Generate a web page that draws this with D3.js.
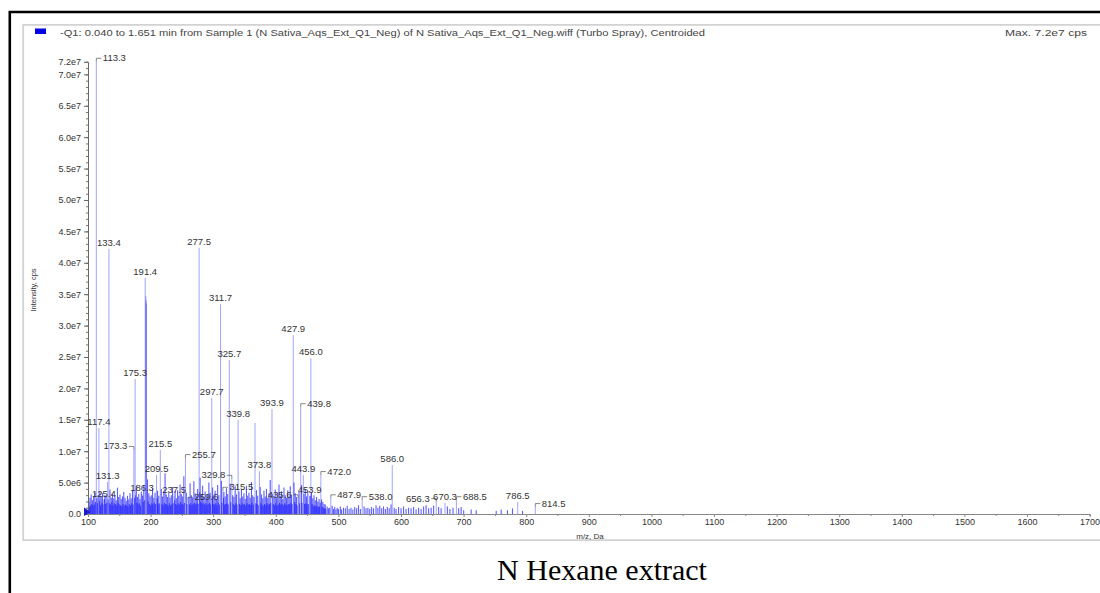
<!DOCTYPE html>
<html lang="en">
<head>
<meta charset="UTF-8">
<title>N Hexane extract</title>
<script src="https://d3js.org/d3.v7.min.js"></script>
<style>
  body { margin: 0; background: #fff; }
  svg { display: block; font-family: Arial, "Liberation Sans", sans-serif; }
  .tick text { fill: #333; font-size: 9px; }
  .peak-label { fill: #333; font-size: 9.5px; }
</style>
</head>
<body>
<script>
// labelled peaks: m/z and intensity (x1e6 cps)
const peakMz  = [113.3, 117.4, 125.4, 131.3, 133.4, 173.3, 175.3, 186.3, 191.4, 209.5, 215.5, 237.5, 255.7, 259.6, 277.5, 297.7, 311.7, 315.5, 325.7, 329.8, 339.8, 373.8, 393.9, 427.9, 435.6, 439.8, 443.9, 453.9, 456.0, 472.0, 487.9, 538.0, 586.0, 656.3, 670.3, 688.5, 786.5, 814.5];
const peakInt = [72.0, 13.7, 2.2, 5.1, 42.2, 10.2, 21.5, 3.2, 37.6, 6.2, 10.2, 2.9, 8.9, 2.1, 42.4, 18.5, 33.4, 3.7, 24.5, 5.6, 15.0, 6.8, 16.7, 28.5, 2.5, 17.0, 6.2, 2.9, 24.8, 6.2, 2.5, 2.2, 7.8, 1.9, 1.75, 2.2, 1.9, 1.1];

// labels drawn beside the peak with a small leader: +1 right, -1 left
const leaderSide = {"113.3": 1, "173.3": -1, "255.7": 1, "259.6": 1, "315.5": 1, "329.8": -1, "435.6": -1, "439.8": 1, "472.0": 1, "487.9": 1, "538.0": 1, "656.3": -1, "688.5": 1, "814.5": 1};

// unlabelled tall peaks
const extraMz  = [192.4, 193.0, 193.4, 366.8];
const extraInt = [34.7, 34.0, 33.5, 14.5];

// background ions [m/z, intensity x1e6]
const noisePeaks = [
  [100.5,1.2],[101.4,2.0],[102.3,1.1],[103.2,2.6],[104.1,1.4],[105.1,3.1],[106.0,1.6],[107.1,2.2],[108.0,1.3],[109.0,2.8],
  [110.1,1.5],[111.0,3.4],[112.0,1.9],[114.1,2.5],[115.0,1.7],[116.1,3.0],[118.3,2.1],[119.1,3.6],[120.0,1.4],[121.1,2.7],
  [122.0,1.8],[123.1,3.3],[124.0,1.5],[126.1,2.4],[127.0,3.0],[128.1,1.6],[129.0,2.9],[130.1,1.8],[132.1,2.3],[134.2,1.7],
  [135.1,3.9],[136.0,1.5],[137.1,2.6],[138.0,1.9],[139.1,3.2],[140.0,1.4],[141.1,2.5],[142.0,1.7],[143.1,3.0],[144.0,1.6],
  [145.1,2.2],[146.0,1.3],[147.1,4.2],[148.0,1.8],[149.0,2.7],[150.1,1.5],[151.1,3.1],[152.0,1.4],[153.1,2.4],[154.0,1.2],
  [155.1,2.8],[156.0,1.6],[157.1,3.5],[158.0,1.3],[159.1,2.6],[160.0,1.5],[161.1,2.1],[162.0,1.4],[163.1,2.9],[164.0,1.2],
  [165.1,2.3],[166.0,1.6],[167.1,3.3],[168.0,1.4],[169.1,2.5],[170.0,1.7],[171.1,3.8],[172.0,1.5],[174.2,2.6],[176.1,3.0],
  [177.1,4.4],[178.0,1.8],[179.1,2.7],[180.0,1.5],[181.1,3.2],[182.0,1.7],[183.1,2.4],[184.0,1.3],[185.1,3.6],[187.2,2.9],
  [188.1,1.9],[189.1,4.6],[190.1,2.2],[195.1,5.5],[196.0,2.0],[197.1,3.3],[198.0,1.6],[199.1,2.8],[200.0,1.4],[201.1,3.0],
  [202.0,1.7],[203.1,4.1],[204.0,1.5],[205.1,2.6],[206.0,1.8],[207.1,3.4],[208.0,1.6],[210.4,2.5],[211.1,3.7],[212.0,1.5],
  [213.1,2.9],[214.0,1.7],[217.1,4.0],[218.0,1.6],[219.1,2.8],[220.0,1.4],[221.1,3.5],[222.0,1.8],[223.1,6.5],[224.0,1.6],
  [225.1,3.1],[226.0,1.5],[227.1,2.7],[228.0,1.3],[229.1,3.4],[230.0,1.7],[231.1,2.6],[232.0,1.4],[233.1,3.0],[234.0,1.5],
  [235.1,4.3],[236.0,1.7],[238.4,2.2],[239.1,3.6],[240.0,1.6],[241.1,2.5],[242.0,1.4],[243.1,3.8],[244.0,1.7],[245.1,2.9],
  [246.0,1.5],[247.1,4.7],[248.0,1.9],[249.1,3.2],[250.0,1.6],[251.1,2.8],[252.0,1.5],[253.1,6.0],[254.0,1.8],[257.1,3.4],
  [258.0,1.6],[261.1,2.7],[262.0,1.5],[263.1,4.9],[264.0,1.7],[265.1,3.0],[266.0,1.4],[267.1,2.6],[268.0,1.6],[269.1,5.2],
  [270.0,1.8],[271.1,3.3],[272.0,1.5],[273.1,2.9],[274.0,1.7],[275.1,4.0],[276.0,1.6],[278.4,3.5],[279.1,5.8],[280.0,1.9],
  [281.1,3.1],[282.0,1.6],[283.1,4.5],[284.0,1.8],[285.1,2.7],[286.0,1.5],[287.1,3.6],[288.0,1.7],[289.1,2.5],[290.0,1.4],
  [291.1,3.2],[292.0,1.6],[293.1,5.0],[294.0,1.8],[295.1,3.4],[296.0,1.5],[298.5,2.8],[299.1,4.2],[300.0,1.6],[301.1,2.9],
  [302.0,1.5],[303.1,3.7],[304.0,1.7],[305.1,2.4],[306.0,1.4],[307.1,4.6],[308.0,1.8],[309.1,3.0],[310.0,1.5],[313.1,5.3],
  [314.0,1.8],[316.4,2.6],[317.1,3.5],[318.0,1.5],[319.1,2.8],[320.0,1.6],[321.1,4.1],[322.0,1.7],[323.1,3.2],[324.0,1.5],
  [327.1,4.8],[328.0,1.9],[331.1,3.0],[332.0,1.6],[333.1,2.7],[334.0,1.4],[335.1,4.4],[336.0,1.7],[337.1,3.1],[338.0,1.5],
  [341.1,3.6],[342.0,1.6],[343.1,2.5],[344.0,1.4],[345.1,3.9],[346.0,1.7],[347.1,2.8],[348.0,1.5],[349.1,3.3],[350.0,1.6],
  [351.1,2.4],[352.0,1.3],[353.1,4.5],[354.0,1.7],[355.1,2.9],[356.0,1.5],[357.1,3.4],[358.0,1.6],[359.1,2.6],[360.0,1.4],
  [361.1,5.1],[362.0,1.8],[363.1,3.0],[364.0,1.5],[365.1,2.7],[368.0,1.7],[369.1,3.8],[370.0,1.6],[371.1,2.9],[372.0,1.4],
  [375.1,4.3],[376.0,1.7],[377.1,3.1],[378.0,1.5],[379.1,2.5],[380.0,1.3],[381.1,3.7],[382.0,1.6],[383.1,2.8],[384.0,1.4],
  [385.1,4.0],[386.0,1.7],[387.1,2.6],[388.0,1.5],[389.1,3.3],[390.0,1.6],[391.1,5.4],[392.0,1.8],[395.1,3.2],[396.0,1.6],
  [397.1,2.7],[398.0,1.4],[399.1,3.9],[400.0,1.7],[401.1,2.5],[402.0,1.3],[403.1,3.4],[404.0,1.5],[405.1,4.7],[406.0,1.8],
  [407.1,2.9],[408.0,1.5],[409.1,3.6],[410.0,1.6],[411.1,2.4],[412.0,1.4],[413.1,4.2],[414.0,1.7],[415.1,3.0],[416.0,1.5],
  [417.1,2.6],[418.0,1.4],[419.1,3.8],[420.0,1.6],[421.1,2.8],[422.0,1.5],[423.1,4.4],[424.0,1.8],[425.1,3.1],[426.0,1.6],
  [429.1,5.0],[430.0,1.9],[431.1,3.3],[432.0,1.6],[433.1,2.7],[434.0,1.4],[437.1,3.5],[438.0,1.7],[441.1,4.6],[442.0,1.8],
  [445.1,3.2],[446.0,1.6],[447.1,4.0],[448.0,1.7],[449.1,2.8],[450.0,1.5],[451.1,3.6],[452.0,1.6],[455.1,2.9],[457.1,3.4],
  [458.0,1.6],[459.1,2.5],[460.0,1.3],[461.1,3.0],[462.0,1.4],[463.1,2.2],[464.0,1.2],[465.1,2.7],[466.0,1.3],[467.1,2.0],
  [468.0,1.1],[469.1,2.4],[470.0,1.2],[471.0,1.8],[473.1,2.3],[474.0,1.1],[475.1,1.9],[476.0,1.0],[477.1,1.6],[478.0,0.9],
  [479.1,1.5],[480.0,0.8],[482.1,1.2],[484.1,0.9],[486.1,1.0],[490.1,1.3],[492.1,0.8],[494.1,1.1],[496.1,0.7],[498.1,1.0],
  [500.1,0.8],[503.1,1.2],[505.1,0.7],[508.1,1.0],[511.1,0.9],[514.1,1.3],[517.1,0.8],[520.1,1.0],[523.1,0.7],[526.1,1.1],
  [529.1,0.9],[532.1,1.4],[535.1,0.8],[541.1,1.2],[544.1,0.9],[547.1,1.0],[550.1,0.8],[553.1,1.1],[556.1,0.9],[560.1,1.4],
  [563.1,1.0],[566.1,1.3],[569.1,0.9],[572.1,1.2],[575.1,0.8],[578.1,1.1],[581.1,0.9],[584.1,1.5],[589.1,1.0],[592.1,0.8],
  [596.1,1.1],[600.1,0.9],[604.1,1.2],[608.1,0.8],[612.1,1.0],[616.1,0.9],[620.1,1.1],[624.1,0.7],[628.1,1.0],[632.1,0.8],
  [636.1,1.2],[640.1,1.4],[644.1,0.9],[648.1,1.0],[652.1,1.3],[660.1,1.1],[664.1,0.9],[674.1,1.2],[678.1,0.8],[683.1,1.0],
  [692.1,0.9],[696.1,1.1],[700.1,0.6],[712.1,0.7],[720.1,0.6],[752.1,0.5],[760.1,0.7],[770.1,0.6],[778.1,0.9],[794.1,0.5]
];

const yTickValues = [0, 5e6, 10e6, 15e6, 20e6, 25e6, 30e6, 35e6, 40e6, 45e6, 50e6, 55e6, 60e6, 65e6, 70e6, 72e6];
const xTickValues = [100, 200, 300, 400, 500, 600, 700, 800, 900, 1000, 1100, 1200, 1300, 1400, 1500, 1600, 1700];

const headerText = "-Q1: 0.040 to 1.651 min from Sample 1 (N Sativa_Aqs_Ext_Q1_Neg) of N Sativa_Aqs_Ext_Q1_Neg.wiff (Turbo Spray), Centroided";

const W = 1100, H = 593;
const svg = d3.select("body").append("svg")
    .attr("width", W)
    .attr("height", H);

svg.append("rect").attr("width", W).attr("height", H).attr("fill", "#fff");

// outer black frame (left + top)
svg.append("path")
    .attr("d", `M9.8,${H} V12 H${W + 5}`)
    .attr("fill", "none")
    .attr("stroke", "#000")
    .attr("stroke-width", 2.6);

// inner grey panel frame
svg.append("path")
    .attr("d", `M${W + 5},24.8 H23.2 V540.2 H${W + 5}`)
    .attr("fill", "none")
    .attr("stroke", "#d2d2d2")
    .attr("stroke-width", 1.8);

// header
svg.append("rect")
    .attr("x", 35).attr("y", 28.5).attr("width", 11).attr("height", 5.5)
    .attr("fill", "#0000e6");
svg.append("text")
    .attr("x", 60).attr("y", 36)
    .attr("font-size", 8.5)
    .attr("fill", "#444")
    .attr("textLength", 645)
    .attr("lengthAdjust", "spacingAndGlyphs")
    .text(headerText);
svg.append("text")
    .attr("x", 1005).attr("y", 36)
    .attr("font-size", 8.5)
    .attr("fill", "#444")
    .attr("textLength", 82)
    .attr("lengthAdjust", "spacingAndGlyphs")
    .text("Max. 7.2e7 cps");

// scales
const x = d3.scaleLinear().domain([100, 1700]).range([88, 1089.6]);
const y = d3.scaleLinear().domain([0, 72e6]).range([514, 61.8]);

// background sticks (dense, stronger blue)
svg.append("g")
    .selectAll("line")
    .data(noisePeaks)
    .join("line")
    .attr("x1", d => x(d[0]))
    .attr("x2", d => x(d[0]))
    .attr("y1", y(0))
    .attr("y2", d => y(d[1] * 1e6))
    .attr("stroke", "#1a1aff")
    .attr("stroke-opacity", 0.7)
    .attr("stroke-width", 1.1);

// main sticks
const sticks = [];
extraMz.forEach((m, i) => sticks.push({mz: m, v: extraInt[i] * 1e6}));
peakMz.forEach((m, i) => sticks.push({mz: m, v: peakInt[i] * 1e6}));

svg.append("g")
    .selectAll("line")
    .data(sticks)
    .join("line")
    .attr("x1", d => x(d.mz))
    .attr("x2", d => x(d.mz))
    .attr("y1", y(0))
    .attr("y2", d => y(d.v))
    .attr("stroke", "#3333ff")
    .attr("stroke-opacity", 0.45)
    .attr("stroke-width", 1);

// y axis
const yFmt = v => v === 0 ? "0.0" : v.toExponential(1).replace("e+", "e");
const yMinor = svg.append("g")
    .attr("transform", "translate(88,0)")
    .call(d3.axisLeft(y).tickValues(d3.range(0, 72e6 + 1, 1e6)).tickSize(2).tickFormat(""));
yMinor.select(".domain").attr("stroke", "#666");
yMinor.selectAll(".tick line").attr("stroke", "#777");

const yAxis = svg.append("g")
    .attr("transform", "translate(88,0)")
    .call(d3.axisLeft(y).tickValues(yTickValues).tickSize(4).tickPadding(3).tickFormat(yFmt));
yAxis.select(".domain").remove();
yAxis.selectAll(".tick line").attr("stroke", "#666");

svg.append("text")
    .attr("transform", "translate(36,290) rotate(-90)")
    .attr("text-anchor", "middle")
    .attr("font-size", 7.5)
    .attr("fill", "#333")
    .text("Intensity, cps");

// x axis
const xMinor = svg.append("g")
    .attr("transform", "translate(0,514)")
    .call(d3.axisBottom(x).tickValues(d3.range(150, 1700, 100)).tickSize(2).tickFormat(""));
xMinor.select(".domain").attr("stroke", "#888");
xMinor.selectAll(".tick line").attr("stroke", "#888");

const xAxis = svg.append("g")
    .attr("transform", "translate(0,514)")
    .call(d3.axisBottom(x).tickValues(xTickValues).tickSize(3).tickPadding(2).tickFormat(d3.format("d")));
xAxis.select(".domain").remove();
xAxis.selectAll(".tick line").attr("stroke", "#888");

svg.append("text")
    .attr("x", 590).attr("y", 538.5)
    .attr("text-anchor", "middle")
    .attr("font-size", 8)
    .attr("fill", "#333")
    .text("m/z, Da");

// origin marker
svg.append("path")
    .attr("d", "M84,507.5 L84,516 L90.5,512 Z")
    .attr("fill", "#1a1acc");

// peak labels
const labels = svg.append("g");
peakMz.forEach((m, i) => {
    const px = x(m), top = y(peakInt[i] * 1e6);
    const key = m.toFixed(1);
    const side = leaderSide[key];
    if (side) {
        labels.append("path")
            .attr("d", `M${px},${top} V${top - 3.5} H${px + side * 5}`)
            .attr("fill", "none")
            .attr("stroke", "#555")
            .attr("stroke-width", 0.7);
        labels.append("text")
            .attr("class", "peak-label")
            .attr("x", px + side * 6.5)
            .attr("y", top - 0.5)
            .attr("text-anchor", side > 0 ? "start" : "end")
            .text(key);
    } else {
        labels.append("text")
            .attr("class", "peak-label")
            .attr("x", px)
            .attr("y", top - 3)
            .attr("text-anchor", "middle")
            .text(key);
    }
});

// caption
svg.append("text")
    .attr("x", 602).attr("y", 580)
    .attr("text-anchor", "middle")
    .attr("font-family", "'Liberation Serif', 'Times New Roman', serif")
    .attr("font-size", 30)
    .attr("fill", "#000")
    .text("N Hexane extract");
</script>
</body>
</html>
